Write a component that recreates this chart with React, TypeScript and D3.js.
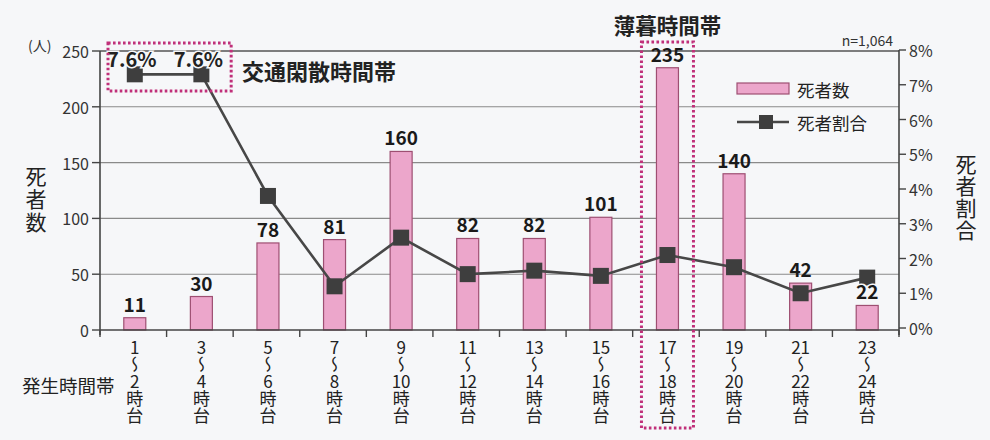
import React from "react";
import * as d3 from "d3";

const categories = ["1-2", "3-4", "5-6", "7-8", "9-10", "11-12", "13-14", "15-16", "17-18", "19-20", "21-22", "23-24"];
const startHours = ["1", "3", "5", "7", "9", "11", "13", "15", "17", "19", "21", "23"];
const endHours = ["2", "4", "6", "8", "10", "12", "14", "16", "18", "20", "22", "24"];
const deaths = [11, 30, 78, 81, 160, 82, 82, 101, 235, 140, 42, 22];
const deathRate = [7.3, 7.3, 3.8, 1.2, 2.6, 1.55, 1.65, 1.5, 2.1, 1.75, 1.0, 1.45];
const rateLabels = ["7.6%", "7.6%"];
const leftTicks = [0, 50, 100, 150, 200, 250];
const rightTicks = [0, 1, 2, 3, 4, 5, 6, 7, 8];

const FONT = "'Noto Sans CJK JP', 'Noto Sans', sans-serif";

export default function App() {
  const W = 990, H = 440;
  const x0 = 100, x1 = 899, yTop = 51, yBot = 330;
  const x = d3.scaleBand<string>().domain(categories).range([x0, x1]).paddingInner(0).paddingOuter(0);
  const bw = x.bandwidth();
  const cx = (c: string) => (x(c) as number) + bw / 2 + 1.5;
  const yL = d3.scaleLinear().domain([0, 250]).range([yBot, yTop]);
  const yR = d3.scaleLinear().domain([0, 8]).range([328, 50]);
  const barW = 22;

  const line = d3.line<number>()
    .x((_, i) => cx(categories[i]))
    .y((d) => yR(d));

  const gridVals = [50, 100, 150, 200, 250];
  const boundaries = categories.map((c) => x(c) as number).concat([x1]);

  const box1x0 = (x(categories[0]) as number) + 8;
  const box1x1 = (x(categories[1]) as number) + bw - 2;
  const c17 = cx(categories[8]);

  const vert: React.CSSProperties = { writingMode: "vertical-rl" as any, textOrientation: "upright" as any };

  const labelFs = 17;
  const labelTop = 339;
  const digitW = 9.2;

  const renderXLabel = (c: string, i: number) => {
    const xc = cx(c);
    const rows = [startHours[i], "〜", endHours[i], "時", "台"];
    const spans: React.ReactNode[] = [];
    rows.forEach((r, k) => {
      const yy = labelTop + k * labelFs;
      const isNum = /^\d+$/.test(r);
      if (isNum && r.length > 1) {
        const chars = r.split("");
        chars.forEach((ch, j) => {
          const off = (j - (chars.length - 1) / 2) * digitW;
          spans.push(<tspan key={k + "-" + j} x={xc + off} y={yy}>{ch}</tspan>);
        });
      } else {
        spans.push(<tspan key={k + "-0"} x={xc} y={yy}>{r}</tspan>);
      }
    });
    return (
      <text key={"xl" + i} fontSize={labelFs} fill="#222" style={vert}>{spans}</text>
    );
  };

  return (
    <svg width={W} height={H} style={{ position: "absolute", left: 0, top: 0, background: "#f6f7f9" }} fontFamily={FONT}>
      <rect x={0} y={0} width={W} height={H} fill="#f6f7f9" />
      {/* grid */}
      {gridVals.map((v) => (
        <line key={"g" + v} x1={x0} x2={x1} y1={yL(v)} y2={yL(v)} stroke={v === 250 ? "#555" : "#8a8a8a"} strokeWidth={v === 250 ? 1.4 : 1.1} />
      ))}
      {/* bars */}
      {deaths.map((d, i) => (
        <rect key={"b" + i} x={cx(categories[i]) - barW / 2} y={yL(d)} width={barW} height={yBot - yL(d)}
          fill="#eca6cb" stroke="#9e4f72" strokeWidth={1.2} />
      ))}
      {/* axes */}
      <line x1={x0} x2={x0} y1={yTop} y2={yBot + 5} stroke="#444" strokeWidth={1.6} />
      <line x1={x1} x2={x1} y1={yTop - 1} y2={yBot + 5} stroke="#444" strokeWidth={1.6} />
      <line x1={x0} x2={x1} y1={yBot} y2={yBot} stroke="#444" strokeWidth={1.6} />
      {leftTicks.map((v) => (
        <g key={"lt" + v}>
          <line x1={x0 - 8} x2={x0} y1={yL(v)} y2={yL(v)} stroke="#444" strokeWidth={1.4} />
          <text x={x0 - 11} y={yL(v)} textAnchor="end" dominantBaseline="central" fontSize={16} fill="#333">{v}</text>
        </g>
      ))}
      {rightTicks.map((v) => (
        <g key={"rt" + v}>
          <line x1={x1} x2={x1 + 7} y1={yR(v)} y2={yR(v)} stroke="#444" strokeWidth={1.4} />
          <text x={x1 + 10} y={yR(v)} textAnchor="start" dominantBaseline="central" fontSize={16} fill="#333">{v}%</text>
        </g>
      ))}
      {boundaries.map((b, i) => (
        <line key={"bt" + i} x1={b} x2={b} y1={yBot} y2={yBot + 7} stroke="#444" strokeWidth={1.4} />
      ))}
      {/* line series */}
      <path d={line(deathRate) || ""} fill="none" stroke="#474747" strokeWidth={2.6} />
      {deathRate.map((r, i) => (
        <rect key={"m" + i} x={cx(categories[i]) - 8} y={yR(r) - 8} width={16} height={16} fill="#3e3e3e" />
      ))}
      {/* bar labels */}
      {deaths.map((d, i) => (
        <text key={"bl" + i} x={cx(categories[i])} y={yL(d) - 6} textAnchor="middle" fontSize={19} fontWeight={700}
          fill="#1a1a1a" stroke="#f6f7f9" strokeWidth={i === 11 ? 3 : 0} paintOrder="stroke">{d}</text>
      ))}
      {/* rate labels */}
      {rateLabels.map((t, i) => (
        <text key={"rl" + i} x={cx(categories[i]) - 3} y={58} textAnchor="middle" dominantBaseline="central" fontSize={20}
          fontWeight={700} fill="#222" stroke="#f6f7f9" strokeWidth={3} paintOrder="stroke">{t}</text>
      ))}
      {/* annotation boxes */}
      <rect x={box1x0} y={43} width={box1x1 - box1x0} height={48} fill="none" stroke="#c0307a" strokeWidth={3} strokeDasharray="2.6 2.4" />
      <rect x={c17 - 26} y={42} width={52} height={386} fill="none" stroke="#c0307a" strokeWidth={3} strokeDasharray="2.6 2.4" />
      <text x={242} y={70} dominantBaseline="central" fontSize={22} fontWeight={700} fill="#222">交通閑散時間帯</text>
      <text x={c17} y={24} textAnchor="middle" dominantBaseline="central" fontSize={21.5} fontWeight={700} fill="#222">薄暮時間帯</text>
      {/* x labels */}
      {categories.map((c, i) => renderXLabel(c, i))}
      <text x={22} y={385} dominantBaseline="central" fontSize={18.5} fill="#222">発生時間帯</text>
      {/* axis titles */}
      <text x={28} y={45} dominantBaseline="central" fontSize={14} fill="#333">(人)</text>
      <text x={36} y={166} fontSize={21} fill="#222" letterSpacing={2} style={vert}>死者数</text>
      <text x={966} y={154} fontSize={21} fill="#222" letterSpacing={1} style={vert}>死者割合</text>
      <text x={893} y={40} textAnchor="end" dominantBaseline="central" fontSize={14} fill="#333">n=1,064</text>
      {/* legend */}
      <rect x={737} y={83} width={52} height={11} fill="#eca6cb" stroke="#9e4f72" strokeWidth={1.2} />
      <text x={797} y={89} dominantBaseline="central" fontSize={17.5} fill="#222">死者数</text>
      <line x1={737} x2={789} y1={122} y2={122} stroke="#474747" strokeWidth={2.6} />
      <rect x={759} y={115} width={14} height={14} fill="#3e3e3e" />
      <text x={797} y={122} dominantBaseline="central" fontSize={17.5} fill="#222">死者割合</text>
    </svg>
  );
}
